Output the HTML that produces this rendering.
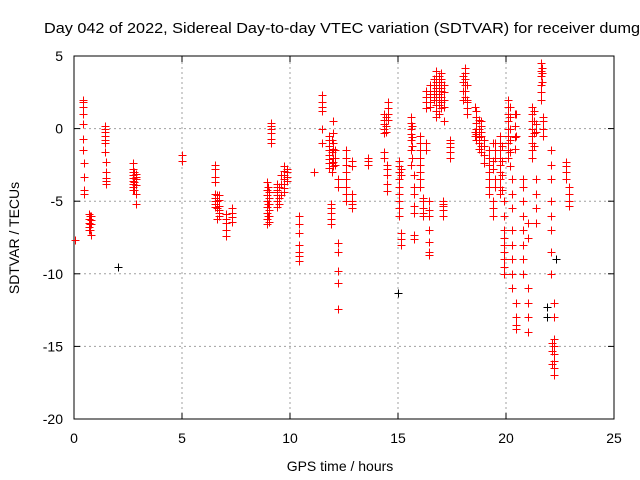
<!DOCTYPE html>
<html><head><meta charset="utf-8"><style>
html,body{margin:0;padding:0;background:#fff;}
svg{display:block;font-family:"Liberation Sans",sans-serif;}
</style></head><body>
<svg id="chart" width="640" height="480" viewBox="0 0 640 480" xmlns="http://www.w3.org/2000/svg">
<text x="44" y="33" font-size="15" textLength="596" lengthAdjust="spacingAndGlyphs" fill="#000">Day 042 of 2022, Sidereal Day-to-day VTEC variation (SDTVAR) for receiver dumg</text>
<g id="grid"></g>
<g id="axes"></g>
<g id="marks"></g>
<text x="340" y="471" font-size="14" text-anchor="middle">GPS time / hours</text>
<text transform="translate(19,238) rotate(-90)" font-size="14" text-anchor="middle">SDTVAR / TECUs</text>
</svg>
<script>
const xTicks = [0,5,10,15,20,25];
const yTicks = [5,0,-5,-10,-15,-20];
const redTimes = [0.05,0.4,0.45,0.7,0.8,1.45,1.5,2.75,2.85,5.0,6.55,6.7,7.05,7.3,8.95,9.05,9.1,9.4,9.7,9.85,10.4,11.1,11.5,11.8,12.0,11.9,12.2,12.6,12.85,13.6,14.35,14.55,14.5,15.05,15.15,15.6,15.75,16.0,16.15,16.3,16.45,16.75,17.0,17.1,17.4,18.1,18.2,18.6,18.85,19.2,19.4,19.7,19.9,20.1,20.3,20.45,20.8,21.0,21.2,21.4,21.6,21.7,22.1,22.2,22.8,22.9,
16.5,16.65,16.9,17.15,18.0,18.55,18.75,19.0,19.5,19.8,20.2,20.4,21.3,11.95,12.1,9.5,9.6,9.0,14.45,15.65,6.6,2.8,0.75,22.15,21.65];
const redValues = [
[-7.7],
[2.0,1.8,1.5,1.0,0.3,-0.7,-1.5],
[-2.4,-3.3,-4.2,-4.5],
[-5.9,-6.2,-6.5,-6.8,-7.0],
[-7.3,-6.6,-6.3,-6.0],
[0.2,0.0,-0.2,-0.5,-0.8,-1.0,-1.6],
[-2.3,-3.0,-3.4,-3.6,-3.8],
[-2.4,-2.8,-3.0,-3.2,-3.4,-3.6,-3.8,-4.0,-4.2],
[-3.3,-3.5,-3.9,-4.5,-5.2,-3.1],
[-1.8,-2.2],
[-2.5,-2.8,-3.3,-3.7,-4.5,-4.8,-5.0,-5.2,-5.4],
[-5.6,-5.8,-6.0,-5.3,-4.9,-4.6],
[-5.9,-6.2,-6.5,-7.0,-7.4],
[-5.5,-5.8,-6.1,-6.4],
[-3.7,-4.2,-4.6,-5.0,-5.4,-5.8,-6.2,-6.6],
[-4.4,-4.8,-5.2,-5.6,-6.0,-6.4],
[0.4,0.2,0.0,-0.3,-0.7,-1.0],
[-3.8,-4.2,-4.6,-5.0,-5.4,-4.4,-4.0],
[-2.6,-2.9,-3.2,-3.5,-3.8,-4.1,-4.4],
[-3.0,-3.3,-3.6,-2.8],
[-6.0,-6.6,-7.2,-8.0,-8.5,-8.8,-9.1],
[-3.0],
[2.3,1.8,1.5,1.2,0.0,-1.0],
[-0.5,-0.8,-1.2,-1.5,-1.8,-2.1,-2.4,-2.7],
[-1.0,-1.4,-2.0,-2.3,-2.6,-0.3,0.5],
[-5.2,-5.5,-5.8,-6.2,-6.6],
[-7.9,-8.5,-9.8,-10.6,-12.4,-3.5,-4.0],
[-1.5,-2.0,-2.5,-3.0,-3.5,-4.0,-4.5,-5.0],
[-2.2,-5.2,-5.0,-5.5,-4.5,-2.6],
[-2.2,-2.5,-2.0],
[1.0,0.6,0.3,0.0,-0.3,-1.6,-2.0],
[1.8,1.4,1.0,0.6],
[-2.5,-3.2,-3.8,-4.3,-2.8],
[-2.2,-2.6,-3.0,-3.5,-4.0,-4.5,-5.0,-5.5,-6.0],
[-7.2,-7.6,-8.0,-3.2,-2.8],
[0.8,0.4,0.0,-0.4,-0.8,-1.5,-2.5],
[-3.2,-4.0,-4.5,-7.3,-7.6,-5.3,-5.8],
[-0.5,-1.0,-1.5,-2.0,-2.5,-3.0,-3.5,-4.0],
[-4.8,-5.5,-5.0,-5.8,-6.0],
[2.6,2.2,1.8,1.4,-1.0,-1.5],
[-5.0,-5.6,-6.0,-7.0,-7.8,-8.5,-8.7],
[4.0,3.6,3.2,2.8,2.4,2.0,1.6,1.2,0.8],
[3.8,3.4,3.0,2.6,2.2,1.8,1.4,2.8,3.2],
[-5.0,-5.3,-5.6,-6.0,-5.2],
[-0.8,-1.0,-1.3,-1.6,-2.0],
[4.2,3.8,3.4,3.0,2.6,2.2],
[1.8,1.4,1.0,2.0,3.0],
[1.2,0.8,0.4,0.0,-0.4,-0.8],
[-1.2,-1.6,-0.2,0.5,-0.5,0.2],
[-1.5,-2.0,-2.5,-3.0,-3.5,-4.0,-4.5],
[-5.0,-5.5,-6.0,-2.2,-1.0,-2.8],
[-0.5,-1.0,-1.5,-2.0,-2.5,-3.0,-3.5,-4.0,-4.5],
[-5.0,-6.0,-7.0,-7.5,-8.0,-8.5,-9.0,-9.5,-10.0],
[2.0,1.5,1.0,0.5,0.0,-0.5,-1.0,-1.5,-2.0],
[-3.5,-4.5,-5.5,-7.0,-8.0,-9.0,-10.0,-11.0],
[-12.0,-13.0,-13.5,-13.8,-0.5,1.0],
[-3.5,-4.0,-5.0,-6.0,-7.0,-8.0,-9.0,-10.0],
[-11.0,-12.0,-13.0,-14.0,-6.5,-7.5],
[1.5,1.0,0.5,0.0,-0.5,-1.0,-1.5,-2.0],
[-3.5,-4.5,-5.5,-6.5,-0.2,0.3],
[4.5,4.0,3.6,3.0,2.5,2.0],
[0.5,0.0,-0.5,0.8],
[-1.5,-2.5,-3.5,-5.0,-6.0,-7.0,-8.5,-10.0],
[-12.0,-13.0,-14.5,-15.0,-15.5,-16.0,-16.5,-17.0],
[-2.3,-2.6,-3.0,-3.5],
[-4.0,-4.5,-5.0,-5.3],
[3.0,2.6,2.2,1.8,1.5,2.4],
[3.4,3.0,2.6,2.2,2.0],
[3.6,3.2,2.8,2.4,2.0,1.6,1.0],
[3.0,2.5,2.0,1.5,0.5],
[3.6,3.2,2.6,2.0],
[-0.2,-0.5,1.5],
[0.6,0.0,-0.6,-1.0,-1.4],
[-1.2,-1.8,-2.4,-0.8],
[-1.0,-1.5,-2.0,-3.5,-4.0],
[-1.2,-2.2,-3.2,-4.2],
[1.5,0.8,0.0,-0.8,-1.6,-2.6],
[1.0,0.2,-0.6,-1.4],
[1.2,0.5,-0.3,-1.2],
[-0.8,-1.6,-2.4,-3.0],
[-1.5,-2.0,-2.5],
[-4.0,-4.8,-5.2],
[-3.2,-3.8,-4.6],
[-4.0,-5.2,-6.0],
[0.8,0.2,-0.2],
[0.2,-0.6,-1.2,-2.0],
[-4.6,-5.0,-5.5,-6.2],
[-3.0,-3.7,-4.2],
[-6.0,-6.6,-7.0],
[-14.8,-15.3,-16.2],
[4.2,3.8,3.2]
];
const blackTimes = [2.05,15.0,21.9,22.3];
const blackValues = [[-9.5],[-11.3],[-12.3,-13.0],[-9.0]];

const X0=74, X1=614, Y0=419, Y1=56, xMin=0, xMax=25, yMin=-20, yMax=5;
function xs(t){return X0+(t-xMin)/(xMax-xMin)*(X1-X0);}
function ys(v){return Y0-(v-yMin)/(yMax-yMin)*(Y0-Y1);}
const NS='http://www.w3.org/2000/svg';
function mk(tag,attrs,parent){const e=document.createElementNS(NS,tag);for(const k in attrs)e.setAttribute(k,attrs[k]);parent.appendChild(e);return e;}
const grid=document.getElementById('grid'), axes=document.getElementById('axes'), marks=document.getElementById('marks');
xTicks.forEach(t=>{
  const x=xs(t);
  if(t>xMin&&t<xMax){const g=mk('line',{x1:x,y1:Y0,x2:x,y2:Y1,stroke:'#a0a0a0','stroke-dasharray':'2,3'},grid);
  
  }
  mk('line',{x1:x,y1:Y0,x2:x,y2:Y0-6,stroke:'#000'},axes);
  mk('line',{x1:x,y1:Y1,x2:x,y2:Y1+6,stroke:'#000'},axes);
  const l=mk('text',{x:x,y:Y0+24,'font-size':14,'text-anchor':'middle'},axes);l.textContent=t;
  
  
});
yTicks.forEach(v=>{
  const y=ys(v);
  if(v>yMin&&v<yMax){const g=mk('line',{x1:X0,y1:y,x2:X1,y2:y,stroke:'#a0a0a0','stroke-dasharray':'2,3'},grid);
  
  }
  mk('line',{x1:X0,y1:y,x2:X0+6,y2:y,stroke:'#000'},axes);
  mk('line',{x1:X1,y1:y,x2:X1-6,y2:y,stroke:'#000'},axes);
  const l=mk('text',{x:X0-11,y:y+5,'font-size':14,'text-anchor':'end'},axes);l.textContent=v;
  
  
});
mk('rect',{x:X0,y:Y1,width:X1-X0,height:Y0-Y1,fill:'none',stroke:'#000'},axes);
function plus(t,v,color){
  const x=Math.round(xs(t))+0.5, y=Math.round(ys(v))+0.5;
  const p=mk('path',{d:`M${x-4} ${y}H${x+4}M${x} ${y-4}V${y+4}`,stroke:color,'stroke-width':1,fill:'none'},marks);
  
  
}
blackTimes.forEach((t,i)=>blackValues[i].forEach(v=>plus(t,v,'#000')));
redTimes.forEach((t,i)=>redValues[i].forEach(v=>plus(t,v,'#f00')));
</script>
</body></html>
